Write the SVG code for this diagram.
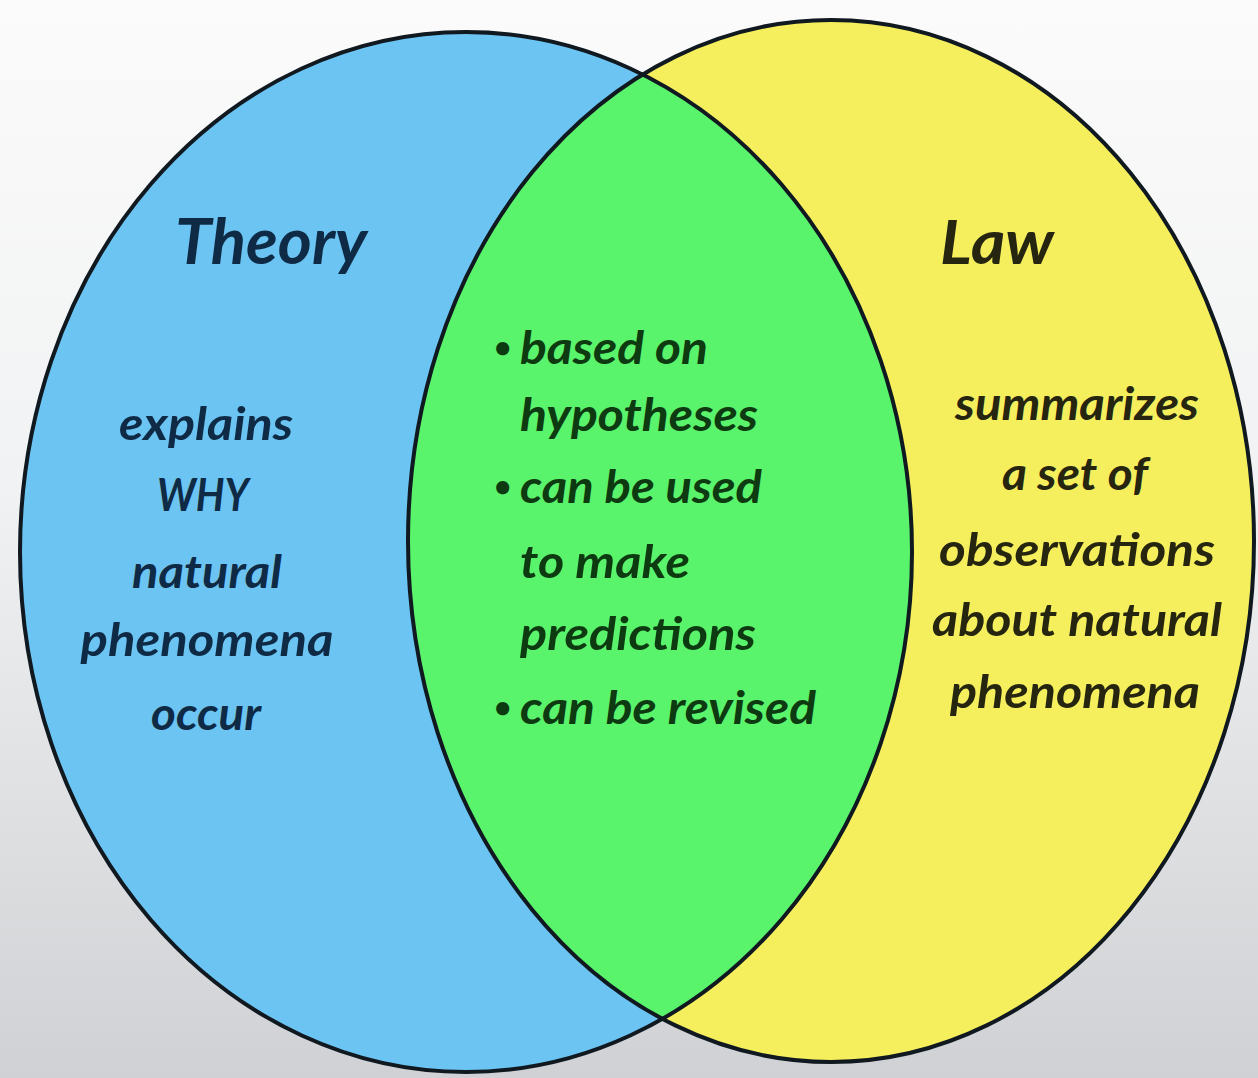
<svg xmlns="http://www.w3.org/2000/svg" width="1258" height="1078" viewBox="0 0 1258 1078">
  <defs>
    <linearGradient id="bg" x1="0" y1="0" x2="0" y2="1">
      <stop offset="0" stop-color="#fbfbfb"/>
      <stop offset="0.45" stop-color="#f1f2f3"/>
      <stop offset="1" stop-color="#cfd1d4"/>
    </linearGradient>
    <clipPath id="clipBlue">
      <ellipse cx="466" cy="552" rx="446" ry="520"/>
    </clipPath>
    <style>
      .outline { fill: none; stroke: #101820; stroke-width: 4; }
      .head { font-family: "Lato", "Open Sans", sans-serif; font-weight: bold; font-style: italic; }
      .body { font-family: "Lato", "Open Sans", sans-serif; font-weight: bold; font-style: italic; font-size: 46px; }
      .bullet { font-family: "Lato", "Open Sans", sans-serif; font-weight: bold; font-size: 30px; }
      .tBlue { fill: #0f2a45; }
      .tGreen { fill: #0d3a10; }
      .tYellow { fill: #262610; }
    </style>
  </defs>
  <rect x="0" y="0" width="1258" height="1078" fill="url(#bg)"/>

  <g id="theory">
    <ellipse cx="466" cy="552" rx="446" ry="520" fill="#6cc4f2"/>
  </g>
  <g id="law">
    <ellipse cx="831" cy="541" rx="423" ry="521" fill="#f5ef5e"/>
  </g>
  <g id="overlap">
    <ellipse cx="831" cy="541" rx="423" ry="521" fill="#5af36c" clip-path="url(#clipBlue)"/>
  </g>
  <g id="outlines">
    <ellipse class="outline" cx="466" cy="552" rx="446" ry="520"/>
    <ellipse class="outline" cx="831" cy="541" rx="423" ry="521"/>
  </g>

  <g id="theory-text" class="tBlue" text-anchor="middle">
    <text class="head" x="271" y="264" font-size="64" textLength="192" lengthAdjust="spacingAndGlyphs">Theory</text>
    <text class="body" x="206" y="440" textLength="174" lengthAdjust="spacingAndGlyphs">explains</text>
    <text class="body" x="203" y="511" textLength="92" lengthAdjust="spacingAndGlyphs">WHY</text>
    <text class="body" x="207" y="588" textLength="150" lengthAdjust="spacingAndGlyphs">natural</text>
    <text class="body" x="207" y="656" textLength="253" lengthAdjust="spacingAndGlyphs">phenomena</text>
    <text class="body" x="206" y="730" textLength="110" lengthAdjust="spacingAndGlyphs">occur</text>
  </g>

  <g id="overlap-text" class="tGreen">
    <text class="bullet" x="494" y="358">•</text>
    <text class="body" x="520" y="364" textLength="188" lengthAdjust="spacingAndGlyphs">based on</text>
    <text class="body" x="520" y="431" textLength="238" lengthAdjust="spacingAndGlyphs">hypotheses</text>
    <text class="bullet" x="494" y="497">•</text>
    <text class="body" x="520" y="503" textLength="242" lengthAdjust="spacingAndGlyphs">can be used</text>
    <text class="body" x="520" y="578" textLength="170" lengthAdjust="spacingAndGlyphs">to make</text>
    <text class="body" x="520" y="650" textLength="236" lengthAdjust="spacingAndGlyphs">predictions</text>
    <text class="bullet" x="494" y="718">•</text>
    <text class="body" x="520" y="724" textLength="296" lengthAdjust="spacingAndGlyphs">can be revised</text>
  </g>

  <g id="law-text" class="tYellow" text-anchor="middle">
    <text class="head" x="997" y="264" font-size="62" textLength="114" lengthAdjust="spacingAndGlyphs">Law</text>
    <text class="body" x="1077" y="420" textLength="244" lengthAdjust="spacingAndGlyphs">summarizes</text>
    <text class="body" x="1075" y="490" textLength="146" lengthAdjust="spacingAndGlyphs">a set of</text>
    <text class="body" x="1077" y="566" textLength="276" lengthAdjust="spacingAndGlyphs">observations</text>
    <text class="body" x="1077" y="636" textLength="290" lengthAdjust="spacingAndGlyphs">about natural</text>
    <text class="body" x="1075" y="708" textLength="250" lengthAdjust="spacingAndGlyphs">phenomena</text>
  </g>
</svg>
